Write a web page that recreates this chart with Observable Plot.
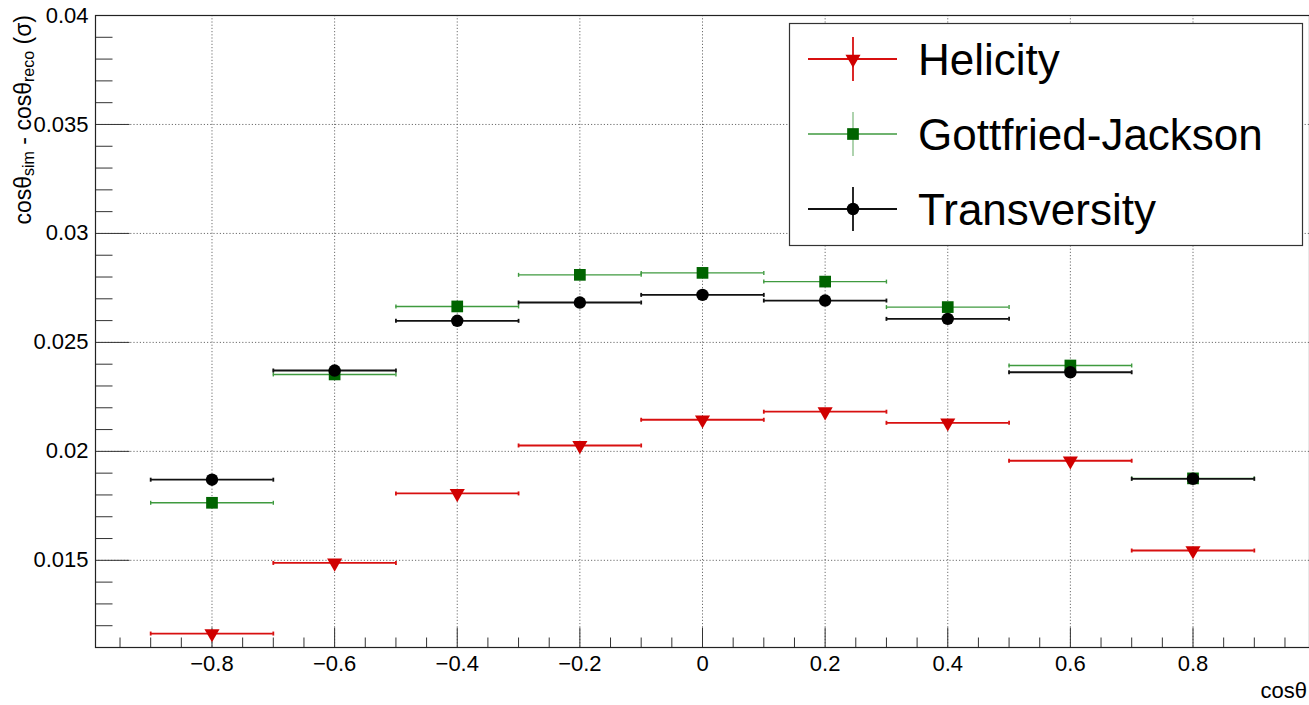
<!DOCTYPE html>
<html>
<head>
<meta charset="utf-8">
<script src="https://cdn.jsdelivr.net/npm/d3@7"></script>
<script src="https://cdn.jsdelivr.net/npm/@observablehq/plot@0.6"></script>
<style>
  html, body { margin: 0; padding: 0; background: white; }
</style>
</head>
<body>
<script>
// ---- data ----
const binCenters = [-0.8, -0.6, -0.4, -0.2, 0, 0.2, 0.4, 0.6, 0.8];
const binHalfWidth = 0.1;
const helicity = [0.01164, 0.01488, 0.01807, 0.02027, 0.02145, 0.02182, 0.02131, 0.01957, 0.01545];
const gottfriedJackson = [0.01764, 0.02353, 0.02665, 0.02810, 0.02819, 0.02779, 0.02662, 0.02394, 0.01876];
const transversity = [0.01870, 0.02371, 0.02599, 0.02683, 0.02718, 0.02692, 0.02608, 0.02363, 0.01874];
const seriesNames = ["Helicity", "Gottfried-Jackson", "Transversity"];
const xTickValues = [-0.8, -0.6, -0.4, -0.2, 0, 0.2, 0.4, 0.6, 0.8];
const yTickValues = [0.015, 0.02, 0.025, 0.03, 0.035, 0.04];
const yTickLabels = ["0.015", "0.02", "0.025", "0.03", "0.035", "0.04"];
const xMinorTickValues = [-0.95, -0.9, -0.85, -0.75, -0.7, -0.65, -0.55, -0.5, -0.45, -0.35, -0.3, -0.25,
  -0.15, -0.1, -0.05, 0.05, 0.1, 0.15, 0.25, 0.3, 0.35, 0.45, 0.5, 0.55, 0.65, 0.7, 0.75, 0.85, 0.9, 0.95];
const yMinorTickValues = [0.011, 0.012, 0.013, 0.014, 0.016, 0.017, 0.018, 0.019, 0.021, 0.022, 0.023, 0.024,
  0.026, 0.027, 0.028, 0.029, 0.031, 0.032, 0.033, 0.034, 0.036, 0.037, 0.038, 0.039];

// ---- styles ----
const styles = {
  "Helicity": {marker: "#d00000", line: "#d81010", lw: 1.8, symbol: "triangle", rotate: 180, r: 5.6},
  "Gottfried-Jackson": {marker: "#006400", line: "#3f9a3f", lw: 1.4, symbol: "square", rotate: 0, r: 6.6},
  "Transversity": {marker: "#000000", line: "#111111", lw: 1.8, symbol: "circle", rotate: 0, r: 6.2}
};
const seriesValues = [helicity, gottfriedJackson, transversity];

const rows = [];
seriesNames.forEach((name, s) => {
  seriesValues[s].forEach((v, i) => rows.push({series: name, x: binCenters[i], y: v}));
});

const vSym = (up, down) => ({draw(ctx) { ctx.moveTo(0, -up); ctx.lineTo(0, down); }});
const hSym = (len) => ({draw(ctx) { ctx.moveTo(0, 0); ctx.lineTo(len, 0); }});
const upSym = (len) => ({draw(ctx) { ctx.moveTo(0, 0); ctx.lineTo(0, -len); }});

const fmtX = d => d === 0 ? "0" : d3.format(".1f")(d);
const fmtY = d => yTickLabels[yTickValues.indexOf(d)];
const font = "'Liberation Sans', Arial, Helvetica, sans-serif";

const marks = [
  Plot.gridX(xTickValues, {stroke: "#555", strokeOpacity: 0.85, strokeDasharray: "1.2,2", strokeWidth: 1}),
  Plot.gridY(yTickValues, {stroke: "#555", strokeOpacity: 0.85, strokeDasharray: "1.2,2", strokeWidth: 1}),
  // y ticks (inside, on left)
  Plot.dot(yTickValues, {y: d => d, frameAnchor: "left", symbol: hSym(34), stroke: "#333", fill: "none", strokeWidth: 1}),
  Plot.dot(yMinorTickValues, {y: d => d, frameAnchor: "left", symbol: hSym(17), stroke: "#333", fill: "none", strokeWidth: 1}),
  // x ticks (inside, on bottom)
  Plot.dot(xTickValues, {x: d => d, frameAnchor: "bottom", symbol: upSym(20), stroke: "#333", fill: "none", strokeWidth: 1}),
  Plot.dot(xMinorTickValues, {x: d => d, frameAnchor: "bottom", symbol: upSym(10), stroke: "#333", fill: "none", strokeWidth: 1})
];

seriesNames.forEach(name => {
  const st = styles[name];
  const data = rows.filter(d => d.series === name);
  marks.push(
    Plot.ruleY(data, {x1: d => d.x - binHalfWidth, x2: d => d.x + binHalfWidth, y: "y", stroke: st.line, strokeWidth: st.lw}),
    Plot.dot(data, {x: d => d.x - binHalfWidth, y: "y", symbol: vSym(2, 2), stroke: st.line, fill: "none", strokeWidth: st.lw}),
    Plot.dot(data, {x: d => d.x + binHalfWidth, y: "y", symbol: vSym(2, 2), stroke: st.line, fill: "none", strokeWidth: st.lw}),
    Plot.dot(data, {x: "x", y: "y", symbol: st.symbol, rotate: st.rotate, r: st.r, fill: st.marker, stroke: "none"})
  );
});

marks.push(
  Plot.frame({stroke: "#222", strokeWidth: 1.2}),
  Plot.axisX({ticks: xTickValues, tickSize: 0, tickPadding: 8, fontSize: 22, tickFormat: fmtX, label: null}),
  Plot.axisY({ticks: yTickValues, tickSize: 0, tickPadding: 7, fontSize: 22, tickFormat: fmtY, label: null})
);

const chart = Plot.plot({
  width: 1309,
  height: 705,
  marginLeft: 95,
  marginTop: 15,
  marginRight: 0,
  marginBottom: 58,
  x: {domain: [-0.99, 0.99]},
  y: {domain: [0.011, 0.04]},
  style: {fontFamily: font, background: "white", color: "black", overflow: "visible"},
  marks
});
document.body.appendChild(chart);

// ---- titles & legend ----
const svg = d3.select(chart);

// y axis title
const yt = svg.append("text")
  .attr("transform", "translate(31,15) rotate(-90)")
  .attr("text-anchor", "end")
  .attr("font-family", font)
  .attr("font-size", 23)
  .attr("fill", "black");
yt.append("tspan").text("cosθ");
yt.append("tspan").attr("font-size", 16).attr("dy", 3).text("sim");
yt.append("tspan").attr("dy", -3).text(" - cosθ");
yt.append("tspan").attr("font-size", 16).attr("dy", 3).text("reco");
yt.append("tspan").attr("dy", -3).text(" (σ)");

// x axis title
svg.append("text")
  .attr("x", 1307).attr("y", 698)
  .attr("text-anchor", "end")
  .attr("font-family", font)
  .attr("font-size", 22)
  .text("cosθ");

// legend
const lg = svg.append("g");
lg.append("rect").attr("x", 789.5).attr("y", 23.5).attr("width", 513).attr("height", 222)
  .attr("fill", "white").attr("stroke", "#333").attr("stroke-width", 1.2);
const legendY = [59, 134, 209];
const symMap = {triangle: d3.symbolTriangle, square: d3.symbolSquare, circle: d3.symbolCircle};
seriesNames.forEach((name, i) => {
  const st = styles[name];
  const y = legendY[i];
  lg.append("line").attr("x1", 808).attr("x2", 897).attr("y1", y).attr("y2", y)
    .attr("stroke", st.line).attr("stroke-width", st.lw);
  lg.append("line").attr("x1", 853).attr("x2", 853).attr("y1", y - 22).attr("y2", y + 22)
    .attr("stroke", name === "Gottfried-Jackson" ? "#8cc08c" : st.line).attr("stroke-width", st.lw);
  lg.append("path")
    .attr("d", d3.symbol(symMap[st.symbol], st.r * st.r * Math.PI)())
    .attr("transform", `translate(853,${y}) rotate(${st.rotate})`)
    .attr("fill", st.marker);
  lg.append("text").attr("x", 918).attr("y", y + 16)
    .attr("text-anchor", "start")
    .attr("font-family", font).attr("font-size", 44).attr("fill", "black")
    .text(name);
});
</script>
</body>
</html>
